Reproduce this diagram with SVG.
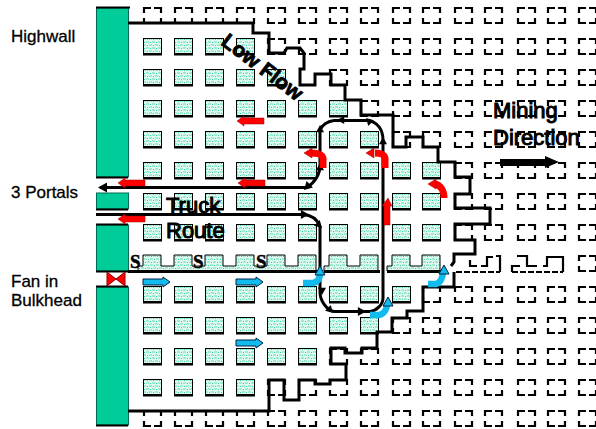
<svg xmlns="http://www.w3.org/2000/svg" width="596" height="429" viewBox="0 0 596 429">
<style>
.lab{font-family:"Liberation Sans",Arial,sans-serif;font-size:17px;fill:#000;stroke:#000;stroke-width:.3}
.big{font-family:"Liberation Sans",Arial,sans-serif;font-size:22px;fill:#000;stroke:#000;stroke-width:1}
.s{font-family:"Liberation Serif","Times New Roman",serif;font-size:19px;font-weight:bold;fill:#000;stroke:#000;stroke-width:.5}
.wall{fill:#00cc99;stroke:#006b55;stroke-width:1}
.wcap{stroke:#000;stroke-width:2}
.bd{fill:none;stroke:#000;stroke-width:3;stroke-linejoin:miter}
.air{fill:none;stroke:#000;stroke-width:3}
.dash{fill:none;stroke:#000;stroke-width:2.2}
.dl{fill:none;stroke:#000;stroke-width:2;stroke-dasharray:6 2}
.sp{fill:url(#hatch);stroke:#000;stroke-width:1}
.red{fill:#f00;stroke:#900;stroke-width:.5}
.blue{fill:#11bbee;stroke:#024;stroke-width:1}
.rc{fill:none;stroke:#f00;stroke-width:7}
.bc{fill:none;stroke:#11bbee;stroke-width:6.500}
</style>
<defs>
<pattern id="hatch" width="6" height="6" patternUnits="userSpaceOnUse">
<rect width="6" height="6" fill="#dff8f0"/>
<path d="M0,0h3v2h-3zM3,3h3v2h-3z" fill="#a0ead4"/>
<path d="M4,1h1v1h-1zM1,4h1v1h-1z" fill="#2ecfa5"/>
</pattern>
<g id="p"><rect class="sp" x="0.5" y="0.5" width="18" height="15"/><rect x="0" y="15" width="19" height="2.5" fill="#000"/></g>
<path id="d" class="dash" d="M1,6V1H8M11,1H18V6M1,11V16H8M11,16H18V11"/>
<polygon id="la" class="red" points="0,0 7,-5 7,-3 27,-3 27,3 7,3 7,5"/>
<polygon id="ra" class="blue" points="27,0 20,-5 20,-3 0,-3 0,3 20,3 20,5"/>
<polygon id="tri" points="0,0 9,-5 9,5" fill="#000"/>
</defs>
<g id="dashed-pillars">
<use href="#d" x="143" y="7"/><use href="#d" x="174" y="7"/><use href="#d" x="205" y="7"/><use href="#d" x="236" y="7"/><use href="#d" x="267" y="7"/><use href="#d" x="298" y="7"/><use href="#d" x="329" y="7"/><use href="#d" x="360" y="7"/><use href="#d" x="392" y="7"/><use href="#d" x="422" y="7"/><use href="#d" x="454" y="7"/><use href="#d" x="484" y="7"/><use href="#d" x="517" y="7"/><use href="#d" x="547" y="7"/><use href="#d" x="578" y="7"/>
<use href="#d" x="267" y="38"/><use href="#d" x="298" y="38"/><use href="#d" x="329" y="38"/><use href="#d" x="360" y="38"/><use href="#d" x="392" y="38"/><use href="#d" x="422" y="38"/><use href="#d" x="454" y="38"/><use href="#d" x="484" y="38"/><use href="#d" x="517" y="38"/><use href="#d" x="547" y="38"/><use href="#d" x="578" y="38"/>
<use href="#d" x="329" y="69"/><use href="#d" x="360" y="69"/><use href="#d" x="392" y="69"/><use href="#d" x="422" y="69"/><use href="#d" x="454" y="69"/><use href="#d" x="484" y="69"/><use href="#d" x="517" y="69"/><use href="#d" x="547" y="69"/><use href="#d" x="578" y="69"/>
<use href="#d" x="360" y="100"/><use href="#d" x="392" y="100"/><use href="#d" x="422" y="100"/><use href="#d" x="454" y="100"/><use href="#d" x="484" y="100"/><use href="#d" x="517" y="100"/><use href="#d" x="547" y="100"/><use href="#d" x="578" y="100"/>
<use href="#d" x="392" y="131"/><use href="#d" x="422" y="131"/><use href="#d" x="454" y="131"/><use href="#d" x="484" y="131"/><use href="#d" x="517" y="131"/><use href="#d" x="547" y="131"/><use href="#d" x="578" y="131"/>
<use href="#d" x="454" y="162"/><use href="#d" x="484" y="162"/><use href="#d" x="517" y="162"/><use href="#d" x="547" y="162"/><use href="#d" x="578" y="162"/>
<use href="#d" x="454" y="193"/><use href="#d" x="484" y="193"/><use href="#d" x="517" y="193"/><use href="#d" x="547" y="193"/><use href="#d" x="578" y="193"/>
<use href="#d" x="454" y="224"/><use href="#d" x="484" y="224"/><use href="#d" x="517" y="224"/><use href="#d" x="547" y="224"/><use href="#d" x="578" y="224"/>
<path class="dash" d="M470,260V266H477M481,266H487V257H493M496,256H500V272M512,272V266H520M517,256H527V266H537M543,266H547V257H563V272"/>
<path class="dl" d="M456,272H500M512,272H563"/>
<use href="#d" x="578" y="255"/>
<use href="#d" x="422" y="286"/><use href="#d" x="454" y="286"/><use href="#d" x="484" y="286"/><use href="#d" x="517" y="286"/><use href="#d" x="547" y="286"/><use href="#d" x="578" y="286"/>
<use href="#d" x="392" y="317"/><use href="#d" x="422" y="317"/><use href="#d" x="454" y="317"/><use href="#d" x="484" y="317"/><use href="#d" x="517" y="317"/><use href="#d" x="547" y="317"/><use href="#d" x="578" y="317"/>
<use href="#d" x="329" y="348"/><use href="#d" x="360" y="348"/><use href="#d" x="392" y="348"/><use href="#d" x="422" y="348"/><use href="#d" x="454" y="348"/><use href="#d" x="484" y="348"/><use href="#d" x="517" y="348"/><use href="#d" x="547" y="348"/><use href="#d" x="578" y="348"/>
<use href="#d" x="267" y="379"/><use href="#d" x="298" y="379"/><use href="#d" x="329" y="379"/><use href="#d" x="360" y="379"/><use href="#d" x="392" y="379"/><use href="#d" x="422" y="379"/><use href="#d" x="454" y="379"/><use href="#d" x="484" y="379"/><use href="#d" x="517" y="379"/><use href="#d" x="547" y="379"/><use href="#d" x="578" y="379"/>
<use href="#d" x="143" y="410"/><use href="#d" x="174" y="410"/><use href="#d" x="205" y="410"/><use href="#d" x="236" y="410"/><use href="#d" x="267" y="410"/><use href="#d" x="298" y="410"/><use href="#d" x="329" y="410"/><use href="#d" x="360" y="410"/><use href="#d" x="392" y="410"/><use href="#d" x="422" y="410"/><use href="#d" x="454" y="410"/><use href="#d" x="484" y="410"/><use href="#d" x="517" y="410"/><use href="#d" x="547" y="410"/><use href="#d" x="578" y="410"/>
</g>
<g id="solid-pillars">
<use href="#p" x="143" y="38"/><use href="#p" x="174" y="38"/><use href="#p" x="205" y="38"/><use href="#p" x="236" y="38"/>
<use href="#p" x="143" y="69"/><use href="#p" x="174" y="69"/><use href="#p" x="205" y="69"/><use href="#p" x="236" y="69"/><use href="#p" x="267" y="69"/>
<use href="#p" x="143" y="100"/><use href="#p" x="174" y="100"/><use href="#p" x="205" y="100"/><use href="#p" x="236" y="100"/><use href="#p" x="267" y="100"/><use href="#p" x="298" y="100"/><use href="#p" x="329" y="100"/>
<use href="#p" x="143" y="131"/><use href="#p" x="174" y="131"/><use href="#p" x="205" y="131"/><use href="#p" x="236" y="131"/><use href="#p" x="267" y="131"/><use href="#p" x="298" y="131"/><use href="#p" x="329" y="131"/><use href="#p" x="360" y="131"/>
<use href="#p" x="143" y="162"/><use href="#p" x="174" y="162"/><use href="#p" x="205" y="162"/><use href="#p" x="236" y="162"/><use href="#p" x="267" y="162"/><use href="#p" x="298" y="162"/><use href="#p" x="329" y="162"/><use href="#p" x="360" y="162"/><use href="#p" x="392" y="162"/><use href="#p" x="422" y="162"/>
<use href="#p" x="143" y="193"/><use href="#p" x="174" y="193"/><use href="#p" x="205" y="193"/><use href="#p" x="236" y="193"/><use href="#p" x="267" y="193"/><use href="#p" x="298" y="193"/><use href="#p" x="329" y="193"/><use href="#p" x="360" y="193"/><use href="#p" x="392" y="193"/><use href="#p" x="422" y="193"/>
<use href="#p" x="143" y="224"/><use href="#p" x="174" y="224"/><use href="#p" x="205" y="224"/><use href="#p" x="236" y="224"/><use href="#p" x="267" y="224"/><use href="#p" x="298" y="224"/><use href="#p" x="329" y="224"/><use href="#p" x="360" y="224"/><use href="#p" x="392" y="224"/><use href="#p" x="422" y="224"/>
<path class="sp" d="M138,271V266H143V255H161V266H174V255H192V266H205V255H223V266H236V255H254V266H267V255H285V266H298V255H316V271Z"/>
<path class="sp" d="M324,271V266H329V255H347V266H360V255H378V271Z"/>
<path class="sp" d="M387,271V266H392V255H410V266H422V255H440V271Z"/>
<use href="#p" x="143" y="286"/><use href="#p" x="174" y="286"/><use href="#p" x="205" y="286"/><use href="#p" x="236" y="286"/><use href="#p" x="267" y="286"/><use href="#p" x="298" y="286"/><use href="#p" x="329" y="286"/><use href="#p" x="360" y="286"/><use href="#p" x="392" y="286"/>
<use href="#p" x="143" y="317"/><use href="#p" x="174" y="317"/><use href="#p" x="205" y="317"/><use href="#p" x="236" y="317"/><use href="#p" x="267" y="317"/><use href="#p" x="298" y="317"/><use href="#p" x="329" y="317"/><use href="#p" x="360" y="317"/>
<use href="#p" x="143" y="348"/><use href="#p" x="174" y="348"/><use href="#p" x="205" y="348"/><use href="#p" x="236" y="348"/><use href="#p" x="267" y="348"/><use href="#p" x="298" y="348"/>
<use href="#p" x="143" y="379"/><use href="#p" x="174" y="379"/><use href="#p" x="205" y="379"/><use href="#p" x="236" y="379"/>
</g>
<g id="highwall">
<rect class="wall" x="96.500" y="8" width="32" height="169"/>
<rect class="wall" x="96.500" y="193" width="32" height="16"/>
<rect class="wall" x="96.500" y="225" width="32" height="46"/>
<rect class="wall" x="96.500" y="287" width="32" height="138"/>
<path class="wcap" d="M96,7.500H130M96,177.500H128M96,209.500H128M96,224.500H128M96,271.500H128M96,286.500H128M96,425.500H128"/>
</g>
<g id="fan"><path d="M107,272L116,279L125,272V286L116,279L107,286Z" fill="#f00" stroke="#800" stroke-width="1"/></g>
<g id="connectors">
<path id="boundary" class="bd" d="M128,23H253V33H269V53H284L287,48H300L304,53V69H300V85H315V74H331V85H345V100H361V115H393V147H406V137H423V147H438V162H455V177H470V194H455V208H490V224H455V240H475V254H454V262L451,266M454,272V287H423V311H407V318H392V332H377V348H362V353H345V348H331V364H346V380H330V384H315V380H299V400H284V380H269V411H128"/>
<path class="air" d="M128,271.500H318M324,271.500H380M387,271.500H442"/>
<path class="air" d="M100,187.500H307C315,182 320,175 320,165V130C322,125 328,121 334,120.500H368C378,122 383,130 383,140V298C383,305 376,311 370,311.500H334C326,310 320,300 320,292V226"/>
<path class="air" d="M96,214.500H303C311,215 317,219 320,226"/>
<use href="#tri" x="98" y="187.500"/>
<use href="#tri" transform="translate(304,190) rotate(-45) scale(.9)"/>
<use href="#tri" transform="translate(320,163) rotate(90) scale(.8)"/>
<use href="#tri" transform="translate(320,125) rotate(90) scale(.8)"/>
<use href="#tri" transform="translate(337,120) scale(.8)"/>
<use href="#tri" transform="translate(366,118) rotate(45) scale(.8)"/>
<use href="#tri" transform="translate(383,137) rotate(90) scale(.8)"/>
<use href="#tri" transform="translate(309,214.500) rotate(180) scale(.9)"/>
<use href="#tri" transform="translate(322,228) rotate(225) scale(.8)"/>
<use href="#tri" transform="translate(322,295) rotate(-90) scale(.8)"/>
<use href="#tri" transform="translate(333,313) rotate(225) scale(.8)"/>
<use href="#tri" transform="translate(366,311.500) rotate(180) scale(.9)"/>
<polygon points="559,162 545,156 545,159 500,159 500,166 545,166 545,168" fill="#000"/>
</g>
<g id="air-arrows">
<use href="#la" x="237" y="121"/><use href="#la" x="238" y="183"/><use href="#la" x="118" y="183"/><use href="#la" x="118" y="219"/>
<use href="#ra" x="143" y="282"/><use href="#ra" x="236" y="282"/><use href="#ra" x="236" y="343"/>
<polygon class="red" points="388,198 392,206 390,206 390,225 384,225 384,206 382,206"/>
<path class="rc" d="M444,198C444,190 440,185 435,184"/><polygon class="red" points="428,184 436,179 436,189"/>
<path class="rc" d="M323,168V158C322,154 317,153 311,153" stroke-width="6"/><polygon class="red" points="304,153 312,148 312,158"/>
<path class="rc" d="M385,168V158C384,154 381,153 375,153" stroke-width="6"/><polygon class="red" points="366,153 374,148 374,158"/>
<path class="bc" d="M303,283H313C318,282 320,278 320,273"/><polygon class="blue" points="320,266 325,275 315,275"/>
<path class="bc" d="M370,315H379C385,314 387,308 387,303"/><polygon class="blue" points="388,297 393,306 383,306"/>
<path class="bc" d="M428,284H436C441,283 443,276 443,271"/><polygon class="blue" points="444,265 449,274 439,274"/>
</g>
<g id="labels">
<text class="lab" x="11" y="42">Highwall</text>
<text class="lab" x="11" y="198">3 Portals</text>
<text class="lab" x="11" y="287">Fan in</text>
<text class="lab" x="11" y="306">Bulkhead</text>
<text class="big" x="166" y="213">Truck</text>
<text class="big" x="166" y="238">Route</text>
<text class="big" x="493" y="118">Mining</text>
<text class="big" x="493" y="145">Direction</text>
<text class="big" transform="translate(220,44) rotate(37)" font-weight="bold" style="font-size:21px;stroke-width:.8">Low Flow</text>
<text class="s" x="130" y="268">S</text>
<text class="s" x="193" y="268">S</text>
<text class="s" x="256" y="268">S</text>
</g>
</svg>
